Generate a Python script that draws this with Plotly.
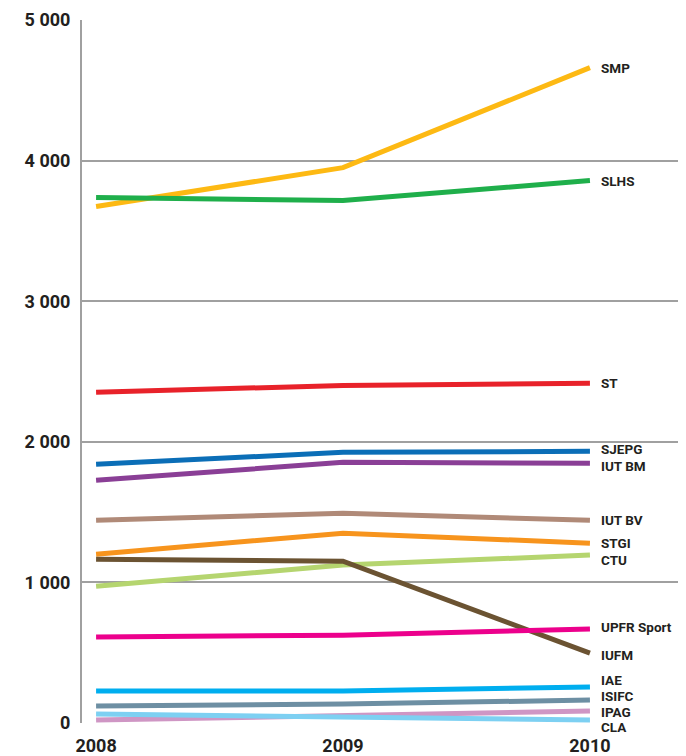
import plotly.graph_objects as go

years = [2008, 2009, 2010]
names = ["SMP", "SLHS", "ST", "SJEPG", "IUT BM", "IUT BV", "STGI", "CTU",
         "IUFM", "UPFR Sport", "IAE", "ISIFC", "IPAG", "CLA"]
smp = [3673, 3950, 4661]
slhs = [3737, 3716, 3858]
st = [2352, 2401, 2416]
sjepg = [1840, 1925, 1932]
iut_bm = [1726, 1854, 1847]
iut_bv = [1442, 1492, 1442]
stgi = [1201, 1350, 1279]
ctu = [973, 1123, 1194]
iufm = [1165, 1151, 497]
upfr_sport = [611, 625, 668]
iae = [227, 227, 256]
isifc = [121, 135, 163]
ipag = [21, 57, 85]
cla = [64, 43, 21]
series = [smp, slhs, st, sjepg, iut_bm, iut_bv, stgi, ctu, iufm,
          upfr_sport, iae, isifc, ipag, cla]

y_tick_vals = [0, 1000, 2000, 3000, 4000, 5000]
y_tick_text = ["0", "1 000", "2 000", "3 000", "4 000", "5 000"]
x_tick_text = ["2008", "2009", "2010"]

colors = ["#FDB913", "#1FAF4B", "#E8222A", "#0B6EB7", "#8A3F96", "#B08A78",
          "#F7941D", "#B5D56F", "#6B5332", "#EC008C", "#00AEEF", "#6D8FA3",
          "#CF96C4", "#7DD0F2"]
# label vertical nudges in pixels (negative = down)
label_shift = {"SMP": 0, "SLHS": 0, "ST": 0, "SJEPG": 2, "IUT BM": -3,
               "IUT BV": 0, "STGI": 0, "CTU": -5, "IUFM": -2,
               "UPFR Sport": 2, "IAE": 7, "ISIFC": 4, "IPAG": -1, "CLA": -7}

FONT = "Roboto"
fig = go.Figure()
for name, vals, col in zip(names, series, colors):
    fig.add_trace(go.Scatter(x=years, y=vals, mode="lines", name=name,
                             line=dict(color=col, width=5),
                             showlegend=False, hoverinfo="name+y"))
    fig.add_annotation(x=years[-1], y=vals[-1], text="<b>%s</b>" % name,
                       xref="x", yref="y", xanchor="left", yanchor="middle",
                       xshift=9, yshift=label_shift[name], showarrow=False,
                       font=dict(family=FONT, size=13.5, color="#231F20"))

# page body has an 8px default margin; size figure so the plot lands in place
fig.update_layout(
    width=678, height=748,
    margin=dict(l=74, r=0, t=12, b=33),
    paper_bgcolor="white", plot_bgcolor="white",
    font=dict(family=FONT, color="#231F20"),
    xaxis=dict(range=[2007.943, 2010.389], tickvals=years,
               ticktext=["<b>%s</b>" % t for t in x_tick_text],
               showgrid=False, zeroline=False, showline=False,
               ticks="", ticklabelstandoff=10,
               tickfont=dict(size=18, family=FONT)),
    yaxis=dict(range=[0, 5000], tickvals=y_tick_vals,
               ticktext=["<b>%s</b>" % t for t in y_tick_text],
               showgrid=True, gridcolor="#A0A0A0", gridwidth=1.5,
               zeroline=False, showline=True, linecolor="#A0A0A0",
               linewidth=2, ticks="", ticklabelstandoff=6,
               tickfont=dict(size=18, family=FONT)),
)
fig.write_html("out.html")
